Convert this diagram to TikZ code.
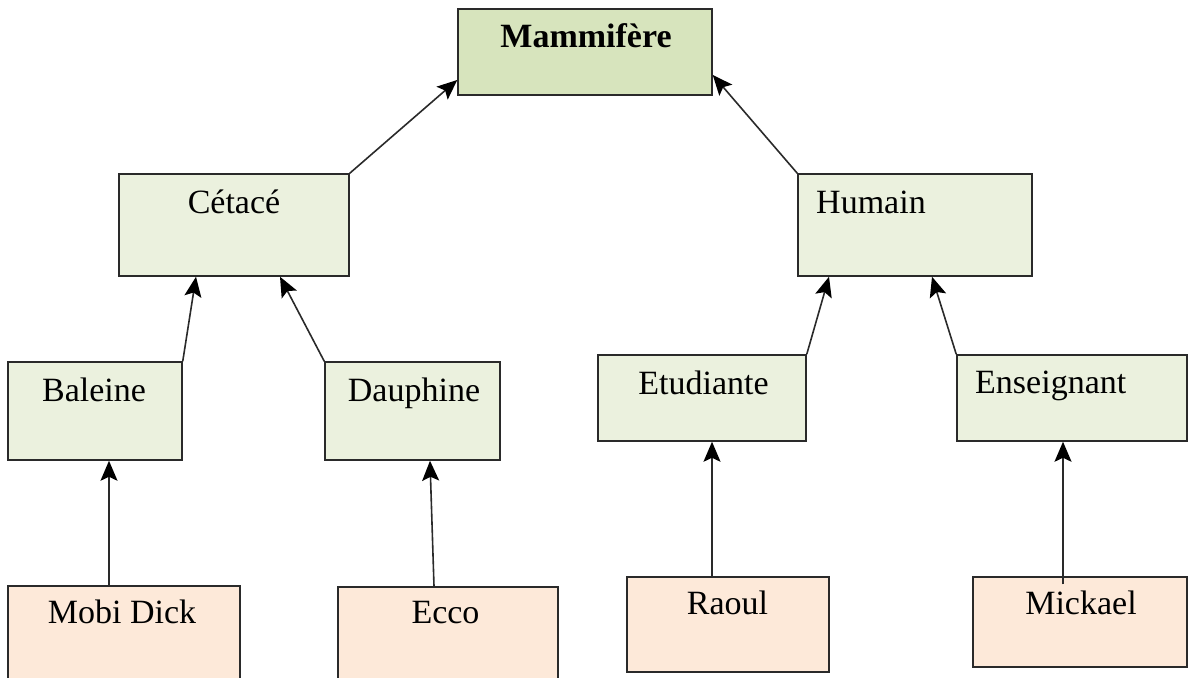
\documentclass[tikz,border=0pt]{standalone}
\usepackage{fontspec}
\setmainfont{Liberation Serif}
\usetikzlibrary{arrows.meta}
\definecolor{topfill}{HTML}{D7E4BD}
\definecolor{midfill}{HTML}{EBF1DE}
\definecolor{leaffill}{HTML}{FDE9D9}
\definecolor{edgegray}{HTML}{2A2A2A}
\tikzset{
  box/.style={draw=edgegray, line width=1.5pt, rectangle, inner sep=0pt},
  classbox/.style={box, fill=midfill},
  rootbox/.style={box, fill=topfill},
  objbox/.style={box, fill=leaffill},
  lbl/.style={inner sep=0pt, anchor=base, font=\fontsize{34}{40}\selectfont},
  lblw/.style={lbl, anchor=base west},
  link/.style={draw=edgegray, line width=1.6pt,
    -{Stealth[length=20pt,width=17pt,inset=4pt,color=black]}},
}
\begin{document}
\begin{tikzpicture}[x=1pt,y=-1pt]
\useasboundingbox (0,0) rectangle (1188,677);

% class hierarchy boxes
\node[rootbox,  minimum width=254pt, minimum height=86pt] (mam) at (585,52) {};
\node[classbox, minimum width=230pt, minimum height=102pt] (cet) at (234,225) {};
\node[classbox, minimum width=234pt, minimum height=102pt] (hum) at (915,225) {};
\node[classbox, minimum width=174pt, minimum height=98pt] (bal) at (95,411) {};
\node[classbox, minimum width=175pt, minimum height=98pt] (dau) at (412.5,411) {};
\node[classbox, minimum width=208pt, minimum height=86pt] (etu) at (702,398) {};
\node[classbox, minimum width=230pt, minimum height=86pt] (ens) at (1072,398) {};

% instance boxes
\node[objbox, minimum width=232pt, minimum height=114pt] (mob) at (124,643) {};
\node[objbox, minimum width=220pt, minimum height=114pt] (ecc) at (448,644) {};
\node[objbox, minimum width=202pt, minimum height=95pt] (rao) at (728,624.5) {};
\node[objbox, minimum width=214pt, minimum height=90pt] (mic) at (1080,622) {};

% labels
\node[lbl, font=\fontsize{34}{40}\selectfont\bfseries] (mamt) at (586,48) {Mammifère};
\node[lbl]  (cett) at (234,213) {Cétacé};
\node[lblw] (humt) at (816,213) {Humain};
\node[lbl]  (balt) at (94,401) {Baleine};
\node[lbl]  (daut) at (414,401) {Dauphine};
\node[lbl]  (etut) at (703.5,394) {Etudiante};
\node[lblw] (enst) at (975,393) {Enseignant};
\node[lbl]  (mobt) at (122,623) {Mobi Dick};
\node[lbl]  (ecct) at (445.5,623) {Ecco};
\node[lbl]  (raot) at (727.5,614) {Raoul};
\node[lbl]  (mict) at (1081,614) {Mickael};

% inheritance links
\draw[link] (cet.north east) -- ([yshift=-28pt]mam.west);
\draw[link] (hum.north west) -- ([yshift=-23pt]mam.east);
\draw[link] (bal.north east) -- ([xshift=-38pt]cet.south);
\draw[link] (dau.north west) -- ([xshift=46pt]cet.south);
\draw[link] (etu.north east) -- ([xshift=-86pt]hum.south);
\draw[link] (ens.north west) -- ([xshift=17pt]hum.south);

% instance links
\draw[link] ([xshift=-15pt]mob.north) -- ([xshift=14pt]bal.south);
\draw[link] ([xshift=-14pt]ecc.north) -- ([xshift=17.5pt]dau.south);
\draw[link] ([xshift=-16pt]rao.north) -- ([xshift=10pt]etu.south);
\draw[link] ([xshift=-17pt,yshift=-8pt]mic.north) -- ([xshift=-9pt]ens.south);
\end{tikzpicture}
\end{document}
